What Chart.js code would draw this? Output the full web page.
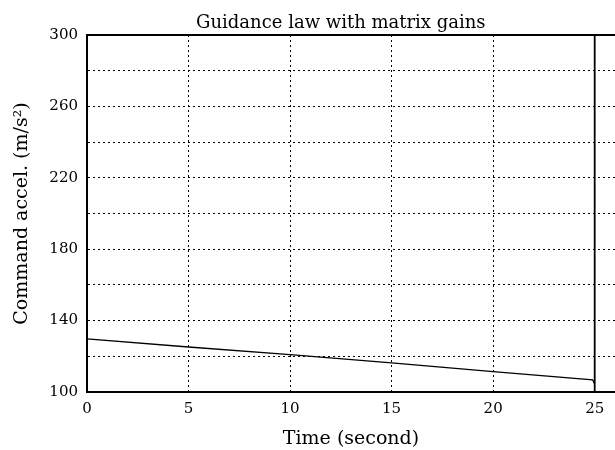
<!DOCTYPE html>
<html lang="en">
<head>
  <meta charset="UTF-8" />
  <title>Guidance law with matrix gains</title>
  <script src="https://cdn.jsdelivr.net/npm/chart.js"></script>
  <style>
    html, body { margin: 0; padding: 0; background: #fff; }
    #wrap { width: 615px; height: 450px; }
  </style>
</head>
<body>
  <div id="wrap"><canvas id="accelChart" width="615" height="450"></canvas></div>

  <script>
    // values
    const time = [0, 5, 10, 15, 20, 24.9, 25];
    const accel = [129.8, 125.2, 120.9, 116.3, 111.4, 106.8, 104.5];
    const wallTime = [25, 25];
    const wallAccel = [100, 300];
    const yLabelled = [100, 140, 180, 220, 260, 300];
    const titleText = 'Guidance law with matrix gains';

    const serif = '"DejaVu Serif", "Liberation Serif", serif';

    // solid frame on top of the dotted grid, and the title centred over 0..25
    const framePlugin = {
      id: 'frame',
      afterDraw(chart) {
        const { ctx, chartArea: a } = chart;
        const xs = chart.scales.x;
        ctx.save();
        ctx.strokeStyle = '#000';
        ctx.lineWidth = 2;
        ctx.beginPath();
        ctx.moveTo(a.left, a.bottom);
        ctx.lineTo(a.left, a.top);
        ctx.lineTo(a.right, a.top);
        ctx.moveTo(a.left, a.bottom);
        ctx.lineTo(a.right, a.bottom);
        ctx.stroke();

        ctx.fillStyle = '#000';
        ctx.font = '18px ' + serif;
        ctx.textAlign = 'center';
        ctx.textBaseline = 'alphabetic';
        ctx.fillText(titleText, xs.getPixelForValue(12.5), 28);
        ctx.restore();
      }
    };

    new Chart(document.getElementById('accelChart'), {
      type: 'scatter',
      data: {
        datasets: [{
          data: time.map((t, i) => ({ x: t, y: accel[i] })),
          showLine: true,
          borderColor: '#000',
          borderWidth: 1.3,
          pointRadius: 0,
          tension: 0
        }, {
          data: wallTime.map((t, i) => ({ x: t, y: wallAccel[i] })),
          showLine: true,
          borderColor: '#000',
          borderWidth: 1.8,
          pointRadius: 0
        }]
      },
      options: {
        responsive: false,
        animation: false,
        layout: { padding: { left: 0, right: 0, top: 35, bottom: 0 } },
        plugins: {
          legend: { display: false },
          tooltip: { enabled: false },
          title: { display: false }
        },
        scales: {
          x: {
            type: 'linear',
            min: 0,
            max: 26,
            afterFit(s) { s.height = 58; },
            ticks: {
              stepSize: 5,
              includeBounds: false,
              maxRotation: 0,
              color: '#000',
              padding: 8,
              font: { family: serif, size: 15 }
            },
            grid: { color: '#000', lineWidth: 1, drawTicks: false },
            border: { color: '#000', width: 2, dash: [2, 3] },
            title: {
              display: true,
              text: 'Time (second)',
              color: '#000',
              font: { family: serif, size: 19 },
              padding: { top: 1, bottom: 0 }
            }
          },
          y: {
            min: 100,
            max: 300,
            afterFit(s) { s.width = 87; },
            ticks: {
              stepSize: 20,
              color: '#000',
              padding: 9,
              font: { family: serif, size: 15 },
              callback: v => yLabelled.includes(v) ? String(v) : ''
            },
            grid: { color: '#000', lineWidth: 1, drawTicks: false },
            border: { color: '#000', width: 2, dash: [2, 3] },
            title: {
              display: true,
              text: 'Command accel. (m/s²)',
              color: '#000',
              font: { family: serif, size: 19 },
              padding: { top: 11, bottom: 0 }
            }
          }
        }
      },
      plugins: [framePlugin]
    });
  </script>
</body>
</html>
